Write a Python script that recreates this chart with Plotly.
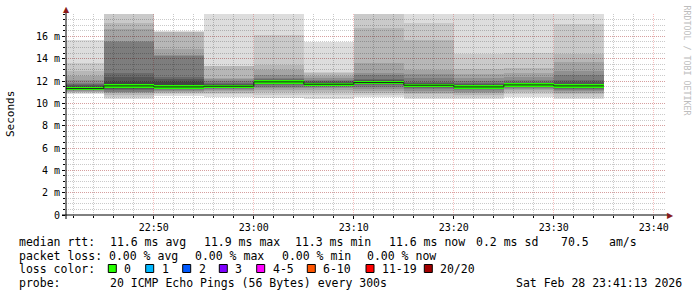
import pandas as pd
import plotly.graph_objects as go

# ---------------- data ----------------
bin_end = ["2026-02-28 22:45:00", "2026-02-28 22:50:00", "2026-02-28 22:55:00",
           "2026-02-28 23:00:00", "2026-02-28 23:05:00", "2026-02-28 23:10:00",
           "2026-02-28 23:15:00", "2026-02-28 23:20:00", "2026-02-28 23:25:00",
           "2026-02-28 23:30:00", "2026-02-28 23:35:00"]

median_ms = [11.32, 11.56, 11.47, 11.53, 11.92, 11.71, 11.86, 11.62, 11.47, 11.65, 11.56]

# 20 sorted ping round-trip times (ms) per 5-minute step
pings_2245 = [10.8, 10.9, 11.0, 11.05, 11.1, 11.15, 11.2, 11.25, 11.28, 11.3,
              11.4, 11.5, 11.6, 11.7, 11.86, 12.1, 12.45, 12.9, 13.6, 15.7]
pings_2250 = [10.4, 10.6, 10.75, 10.9, 11.0, 11.05, 11.15, 11.26, 11.35, 11.45,
              11.7, 11.95, 12.4, 12.7, 15.5, 15.55, 16.7, 17.2, 18.5, 19.5]
pings_2255 = [10.65, 10.8, 10.9, 11.0, 11.1, 11.2, 11.25, 11.3, 11.35, 11.4,
              11.6, 11.95, 12.2, 12.4, 14.25, 14.3, 14.85, 16.35, 16.4, 16.45]
pings_2300 = [10.6, 10.8, 10.95, 11.1, 11.2, 11.3, 11.35, 11.4, 11.45, 11.48,
              11.58, 11.65, 11.75, 11.85, 12.0, 12.2, 12.3, 13.3, 13.35, 19.0]
pings_2305 = [10.45, 10.75, 11.0, 11.2, 11.35, 11.5, 11.65, 11.75, 11.85, 11.9,
              11.97, 12.0, 12.05, 12.15, 12.3, 12.55, 13.0, 13.45, 16.13, 18.3]
pings_2310 = [10.42, 10.75, 11.0, 11.2, 11.35, 11.45, 11.55, 11.6, 11.65, 11.68,
              11.76, 11.82, 11.9, 12.0, 12.1, 12.3, 12.45, 12.7, 12.85, 15.47]
pings_2315 = [10.6, 10.75, 10.95, 11.1, 11.3, 11.45, 11.6, 11.7, 11.78, 11.82,
              11.9, 11.95, 12.05, 12.2, 12.5, 12.75, 13.6, 16.76, 18.5, 19.5]
pings_2320 = [10.42, 10.6, 10.8, 10.95, 11.1, 11.25, 11.35, 11.45, 11.5, 11.56,
              11.68, 11.75, 11.85, 11.95, 12.25, 12.6, 13.0, 15.68, 17.2, 18.5]
pings_2325 = [10.37, 10.55, 10.75, 10.9, 11.05, 11.15, 11.25, 11.33, 11.38, 11.42,
              11.52, 11.6, 11.7, 11.8, 12.0, 12.3, 12.6, 13.1, 14.4, 18.3]
pings_2330 = [10.6, 10.8, 11.0, 11.15, 11.3, 11.4, 11.5, 11.55, 11.58, 11.6,
              11.7, 11.75, 11.85, 11.95, 12.1, 12.35, 12.7, 13.15, 14.5, 18.2]
pings_2335 = [10.42, 10.6, 10.8, 10.95, 11.1, 11.2, 11.3, 11.38, 11.43, 11.47,
              11.65, 11.75, 11.9, 12.1, 12.5, 12.93, 13.74, 14.4, 17.1, 18.3]

y_tick_vals = [0, 2, 4, 6, 8, 10, 12, 14, 16]
y_tick_text = ["0", "2 m", "4 m", "6 m", "8 m", "10 m", "12 m", "14 m", "16 m"]

loss_labels = ["0", "1", "2", "3", "4-5", "6-10", "11-19", "20/20"]
loss_colors = ["#26ff00", "#00b8ff", "#0059ff", "#7e00ff", "#ff00ff", "#ff5500", "#ff0000", "#a10000"]

legend_line1 = [("median rtt:", 16.5), ("11.6 ms avg", 107.5), ("11.9 ms max", 201.5),
                ("11.3 ms min", 293.3), ("11.6 ms now", 387), ("0.2 ms sd", 474.3),
                ("70.5", 558.7), ("am/s", 607)]
legend_line2 = [("packet loss:", 16.5), ("0.00 % avg", 107.3), ("0.00 % max", 193.3),
                ("0.00 % min", 279.5), ("0.00 % now", 365)]
probe_text = "20 ICMP Echo Pings (56 Bytes) every 300s"
stamp_text = "Sat Feb 28 23:41:13 2026"

all_pings = [pings_2245, pings_2250, pings_2255, pings_2300, pings_2305, pings_2310,
             pings_2315, pings_2320, pings_2325, pings_2330, pings_2335]

# ---------------- geometry helpers ----------------
W, H = 697, 297
L, R, T, B = 66, 31, 14, 82
PW, PH = W - L - R, H - T - B


def px(x):
    return (x - L) / PW


def py(y):
    return (H - B - y) / PH


ends = pd.to_datetime(bin_end)
step = pd.Timedelta(seconds=300)
centers = ends - step / 2
starts = ends - step

fig = go.Figure()

# smoke: pairs of sorted pings, outermost lightest (smokeping colouring)
half = 10
prev = 255.0
for i in range(1, half + 1):
    gray = (190 / half) * (half - i) + 50
    alpha = 1 - gray / prev
    prev = gray
    base = [p[i - 1] for p in all_pings]
    height = [p[20 - i] - p[i - 1] for p in all_pings]
    fig.add_trace(go.Bar(x=centers, y=height, base=base, width=300000,
                         marker=dict(color=f"rgba(0,0,0,{alpha:.4f})", line=dict(width=0)),
                         hoverinfo="skip"))

# median dark step line
fig.add_trace(go.Scatter(x=list(starts) + [ends[-1]], y=median_ms + [median_ms[-1]],
                         mode="lines", line=dict(color="#202020", width=1, shape="hv"),
                         hoverinfo="skip"))

# median band coloured by loss (0 loss -> green)
hw = 0.15
fig.add_trace(go.Bar(x=centers, y=[2 * hw] * len(median_ms), base=[m - hw for m in median_ms],
                     width=300000, marker=dict(color=loss_colors[0], line=dict(width=0)),
                     hoverinfo="skip"))

mono = "DejaVu Sans Mono"
major_grid = "rgba(230,100,100,0.42)"
minor_grid = "rgba(150,150,150,0.5)"

fig.update_layout(
    width=W, height=H, margin=dict(l=L, r=R, t=T, b=B, pad=0),
    paper_bgcolor="white", plot_bgcolor="white",
    barmode="overlay", bargap=0, showlegend=False,
    font=dict(family=mono, size=10, color="black"),
    xaxis=dict(type="date", range=["2026-02-28 22:41:13", "2026-02-28 23:41:13"],
               tickformat="%H:%M", tick0="2026-02-28 22:00:00", dtick=600000,
               showgrid=True, gridcolor=major_grid, griddash="1px,1px", gridwidth=1,
               ticks="outside", ticklen=3, tickcolor="black", showline=False, zeroline=False,
               tickfont=dict(family=mono, size=10, color="black"),
               minor=dict(tick0="2026-02-28 22:00:00", dtick=120000, showgrid=True,
                          gridcolor=minor_grid, griddash="1px,1px", ticks="outside",
                          ticklen=2, tickcolor="black")),
    yaxis=dict(range=[0, 18], tickmode="array", tickvals=y_tick_vals, ticktext=y_tick_text,
               showgrid=True, gridcolor=major_grid, griddash="1px,1px", gridwidth=1,
               ticks="outside", ticklen=3, tickcolor="black", showline=False, zeroline=False,
               tickfont=dict(family=mono, size=10, color="black"),
               minor=dict(tickmode="linear", tick0=0, dtick=0.5, showgrid=True,
                          gridcolor=minor_grid, griddash="1px,1px", ticks="outside",
                          ticklen=2, tickcolor="black")),
)

shapes = []
# axis lines extending past the plot area
shapes.append(dict(type="line", xref="paper", yref="paper", x0=px(62), x1=px(669),
                   y0=0, y1=0, line=dict(color="black", width=1)))
shapes.append(dict(type="line", xref="paper", yref="paper", x0=0, x1=0,
                   y0=py(219), y1=py(10), line=dict(color="black", width=1)))

annotations = []
annotations.append(dict(text="▲", x=0, y=py(9.5), xref="paper", yref="paper",
                        showarrow=False, font=dict(family="DejaVu Sans", size=8, color="#8b1a1a"),
                        xanchor="center", yanchor="middle"))
annotations.append(dict(text="▶", x=px(670.5), y=0, xref="paper", yref="paper",
                        showarrow=False, font=dict(family="DejaVu Sans", size=8, color="#8b1a1a"),
                        xanchor="center", yanchor="middle"))

# y axis title
annotations.append(dict(text="Seconds", x=px(10.5), y=py(114.5), xref="paper", yref="paper",
                        textangle=-90, showarrow=False, font=dict(family=mono, size=11, color="black"),
                        xanchor="center", yanchor="middle"))

# watermark
annotations.append(dict(text="RRDTOOL / TOBI OETIKER", x=px(686.5), y=py(60), xref="paper",
                        yref="paper", textangle=90, showarrow=False,
                        font=dict(family=mono, size=8.3, color="#bdbdbd"),
                        xanchor="center", yanchor="middle"))

lf = dict(family=mono, size=11.5, color="black")


def add_text(t, x, y):
    annotations.append(dict(text=t.replace(" ", "&nbsp;"), x=px(x), y=py(y), xref="paper",
                            yref="paper", showarrow=False, font=lf,
                            xanchor="left", yanchor="middle"))


for t, x in legend_line1:
    add_text(t, x, 241.5)
for t, x in legend_line2:
    add_text(t, x, 255.5)
add_text("loss color:", 16.5, 269)
swatch_x = [108.3, 145.7, 182.7, 219.3, 256.7, 307.3, 366.0, 424.3]
for lab, col, sx in zip(loss_labels, loss_colors, swatch_x):
    shapes.append(dict(type="rect", xref="paper", yref="paper", x0=px(sx), x1=px(sx + 8),
                       y0=py(272.5), y1=py(264.5), fillcolor=col,
                       line=dict(color="black", width=1)))
    add_text(lab, sx + 14, 269)
add_text("probe:", 16.5, 283)
add_text(probe_text, 107.5, 283)
add_text(stamp_text, 513.7, 283)

fig.update_layout(shapes=shapes, annotations=annotations)
fig.write_html("out.html")
